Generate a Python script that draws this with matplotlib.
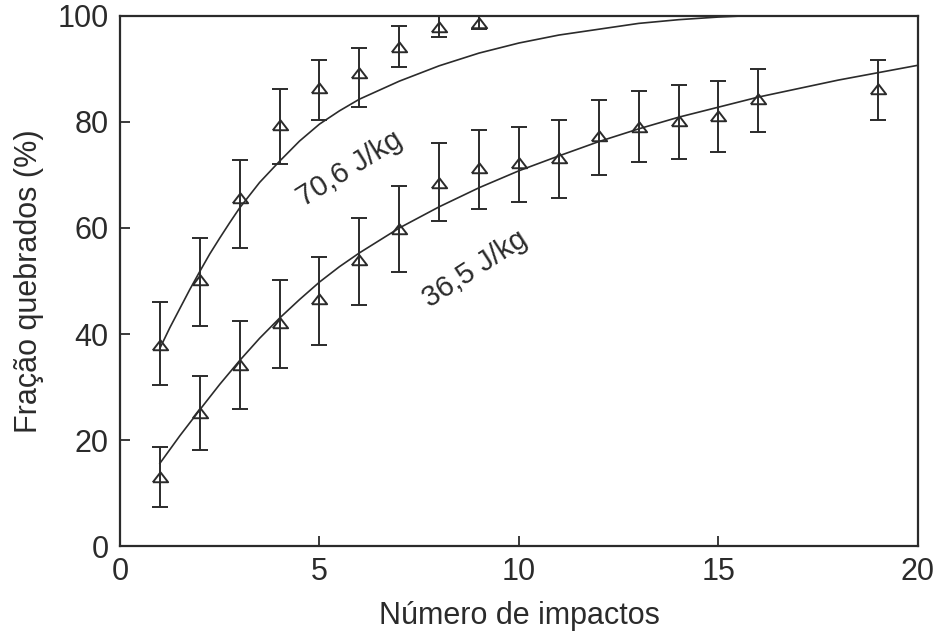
import matplotlib
matplotlib.use('Agg')
import matplotlib.pyplot as plt

plt.rcParams['font.family'] = ['Liberation Sans', 'DejaVu Sans']

# 70,6 J/kg - measured points
x_high = [1, 2, 3, 4, 5, 6, 7, 8, 9]
y_high = [38.0, 50.2, 65.7, 79.4, 86.4, 89.2, 94.2, 97.9, 98.7]
lo_high = [30.4, 41.5, 56.2, 72.1, 80.4, 82.8, 90.4, 96.0, 97.5]
hi_high = [46.0, 58.1, 72.8, 86.2, 91.7, 94.0, 98.1, 100.0, 100.0]

# 36,5 J/kg - measured points
x_low = [1, 2, 3, 4, 5, 6, 7, 8, 9, 10, 11, 12, 13, 14, 15, 16, 19]
y_low = [13.0, 25.1, 34.2, 42.1, 46.6, 54.0, 59.8, 68.5, 71.3, 72.3, 73.2, 77.4, 79.1, 80.2, 81.1, 84.3, 86.2]
lo_low = [7.4, 18.1, 25.8, 33.6, 37.9, 45.5, 51.7, 61.3, 63.6, 64.9, 65.7, 70.0, 72.5, 73.0, 74.3, 78.1, 80.4]
hi_low = [18.7, 32.0, 42.5, 50.2, 54.5, 61.9, 67.9, 76.0, 78.5, 79.1, 80.4, 84.2, 85.8, 87.0, 87.7, 90.0, 91.7]

# fitted curves
cx_high = [1.0, 1.25, 1.5, 1.75, 2.0, 2.25, 2.5, 2.75, 3.0, 3.5, 4.0, 4.5, 5.0, 5.5, 6.0, 7.0, 8.0, 9.0, 10.0,
           11.0, 12.0, 13.0, 14.0, 15.0, 15.6]
cy_high = [37.3, 41.2, 44.8, 48.4, 51.8, 55.1, 58.1, 61.0, 63.8, 68.6, 72.6, 76.4, 79.6, 82.1, 84.3, 87.7, 90.6,
           93.0, 94.9, 96.4, 97.5, 98.6, 99.3, 99.8, 100.0]
cx_low = [1.0, 1.5, 2.0, 2.5, 3.0, 3.5, 4.0, 4.5, 5.0, 5.5, 6.0, 7.0, 8.0, 9.0, 10.0, 11.0, 12.0, 13.0, 14.0, 15.0,
          16.0, 17.0, 18.0, 19.0, 20.0]
cy_low = [15.6, 20.8, 25.7, 30.5, 35.0, 39.2, 43.0, 46.5, 49.8, 52.7, 55.3, 60.0, 64.0, 67.6, 70.8, 73.6, 76.3,
          78.7, 80.9, 82.8, 84.7, 86.3, 87.9, 89.3, 90.7]

ink = '#2b2b2b'
tri = [(-1, -0.62), (1, -0.62), (0, 0.68), (-1, -0.62)]

fig = plt.figure(figsize=(9.33, 6.39), dpi=100)
ax = fig.add_axes([0.1286, 0.1455, 0.8553, 0.8295])

for xs, ys, lo, hi in [(x_high, y_high, lo_high, hi_high), (x_low, y_low, lo_low, hi_low)]:
    err = [[y - l for y, l in zip(ys, lo)], [h - y for y, h in zip(ys, hi)]]
    ax.errorbar(xs, ys, yerr=err, fmt='none', ecolor=ink, elinewidth=1.4,
                capsize=5.5, capthick=1.4, clip_on=False)
    ax.plot(xs, ys, linestyle='none', marker=tri, markersize=11,
            markerfacecolor='none', markeredgecolor=ink, markeredgewidth=1.4, clip_on=False)

ax.plot(cx_high, cy_high, color=ink, lw=1.2)
ax.plot(cx_low, cy_low, color=ink, lw=1.2)

ax.text(5.75, 71.2, '70,6 J/kg', rotation=32, fontsize=21, color=ink, ha='center', va='center')
ax.text(8.9, 52.3, '36,5 J/kg', rotation=33, fontsize=21, color=ink, ha='center', va='center')

ax.set_xlim(0, 20)
ax.set_ylim(0, 100)
ax.set_xticks([0, 5, 10, 15, 20])
ax.set_yticks([0, 20, 40, 60, 80, 100])
ax.tick_params(direction='in', length=7, width=1.3, color=ink, labelsize=22,
               labelcolor=ink, pad=8)
for s in ax.spines.values():
    s.set_linewidth(1.6)
    s.set_color(ink)

ax.set_xlabel('Número de impactos', fontsize=22, color=ink, labelpad=10)
ax.set_ylabel('Fração quebrados (%)', fontsize=22, color=ink, labelpad=10)

fig.savefig('out.png', dpi=100)
